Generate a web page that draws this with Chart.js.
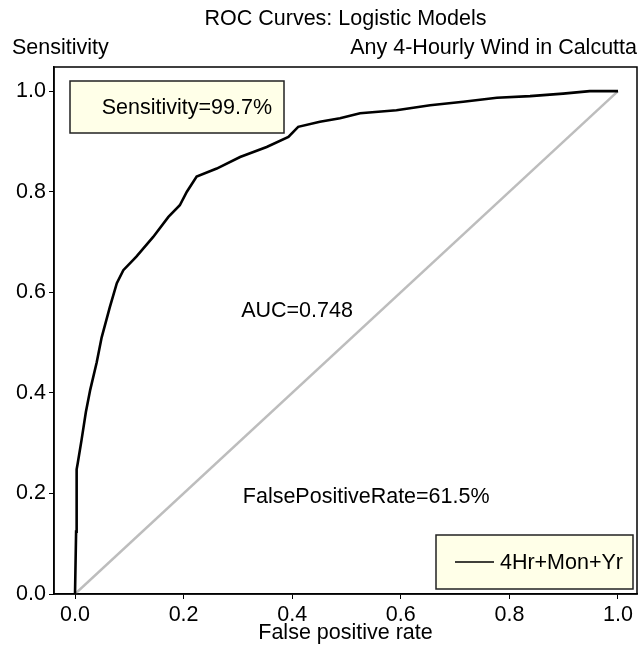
<!DOCTYPE html>
<html>
<head>
<meta charset="utf-8">
<script src="https://cdn.jsdelivr.net/npm/chart.js@4/dist/chart.umd.min.js"></script>
<style>
  html, body { margin: 0; padding: 0; background: #fff; }
  #wrap { width: 640px; height: 651px; }
</style>
</head>
<body>
<div id="wrap"><canvas id="rocChart" width="640" height="651"></canvas></div>
<script>
const rocX = [0, 0.002, 0.003, 0.003, 0.005, 0.012, 0.020, 0.028, 0.040, 0.049, 0.064, 0.077, 0.089, 0.113, 0.144, 0.172, 0.193, 0.206, 0.224, 0.261, 0.304, 0.353, 0.393, 0.411, 0.451, 0.488, 0.525, 0.592, 0.654, 0.715, 0.777, 0.838, 0.899, 0.948, 1.0];
const rocY = [0, 0.124, 0.124, 0.248, 0.260, 0.306, 0.362, 0.406, 0.461, 0.510, 0.570, 0.618, 0.644, 0.671, 0.710, 0.750, 0.773, 0.800, 0.830, 0.846, 0.869, 0.889, 0.909, 0.929, 0.939, 0.946, 0.956, 0.962, 0.972, 0.979, 0.987, 0.990, 0.995, 1.0, 1.0];
const diagX = [0, 1];
const diagY = [0, 1];
const xTicks = [0, 0.2, 0.4, 0.6, 0.8, 1.0];
const yTicks = [0, 0.2, 0.4, 0.6, 0.8, 1.0];
const modelLabel = '4Hr+Mon+Yr';
const chartTitle = 'ROC Curves: Logistic Models';
const subLeft = 'Sensitivity';
const subRight = 'Any 4-Hourly Wind in Calcutta';
const sensText = 'Sensitivity=99.7%';
const aucText = 'AUC=0.748';
const fprText = 'FalsePositiveRate=61.5%';

const FONT = '"Liberation Sans", Arial, sans-serif';
const FSIZE = 21.5;

// Textes, cadre et légende dessinés par-dessus le graphique
const decor = {
    id: 'decor',
    afterDraw(chart) {
        const ctx = chart.ctx;
        const a = chart.chartArea;
        const sx = chart.scales.x, sy = chart.scales.y;
        ctx.save();
        // cadre complet
        ctx.strokeStyle = '#000';
        ctx.lineWidth = 1.5;
        ctx.strokeRect(a.left, a.top, a.right - a.left, a.bottom - a.top);

        ctx.fillStyle = '#000';
        ctx.font = FSIZE + 'px ' + FONT;
        ctx.textBaseline = 'middle';
        ctx.textAlign = 'center';
        ctx.fillText(chartTitle, (a.left + a.right) / 2, 19);
        ctx.textAlign = 'left';
        ctx.fillText(subLeft, 12, 48);
        ctx.textAlign = 'right';
        ctx.fillText(subRight, a.right, 48);

        // boîte sensibilité
        ctx.fillStyle = '#ffffe8';
        ctx.fillRect(70, 81, 214, 52);
        ctx.strokeStyle = '#222';
        ctx.lineWidth = 1.5;
        ctx.strokeRect(70, 81, 214, 52);
        ctx.fillStyle = '#000';
        ctx.textAlign = 'right';
        ctx.fillText(sensText, 272, 108);

        // annotations
        ctx.textAlign = 'left';
        ctx.fillText(aucText, sx.getPixelForValue(0.306), sy.getPixelForValue(0.562));
        ctx.fillText(fprText, sx.getPixelForValue(0.309), sy.getPixelForValue(0.192));

        // légende
        ctx.fillStyle = '#ffffe8';
        ctx.fillRect(436, 535, 197, 54);
        ctx.strokeRect(436, 535, 197, 54);
        ctx.strokeStyle = '#000';
        ctx.lineWidth = 1.5;
        ctx.beginPath();
        ctx.moveTo(455, 562);
        ctx.lineTo(494, 562);
        ctx.stroke();
        ctx.fillStyle = '#000';
        ctx.textAlign = 'right';
        ctx.fillText(modelLabel, 623, 563);
        ctx.restore();
    }
};

const rocData = rocX.map((x, i) => ({ x: x, y: rocY[i] }));
const diagData = diagX.map((x, i) => ({ x: x, y: diagY[i] }));

new Chart(document.getElementById('rocChart').getContext('2d'), {
    type: 'line',
    data: {
        datasets: [
            {
                label: modelLabel,
                data: rocData,
                borderColor: '#000',
                borderWidth: 2.6,
                pointRadius: 0,
                tension: 0,
                order: 0
            },
            {
                label: 'diagonale',
                data: diagData,
                borderColor: '#bdbdbd',
                borderWidth: 2.5,
                pointRadius: 0,
                order: 1
            }
        ]
    },
    options: {
        responsive: false,
        animation: false,
        layout: { padding: { top: 67, right: 3, left: 0, bottom: 0 } },
        plugins: {
            legend: { display: false },
            title: { display: false },
            tooltip: { enabled: false }
        },
        scales: {
            x: {
                type: 'linear',
                min: -0.0387,
                max: 1.035,
                afterBuildTicks: s => { s.ticks = xTicks.map(v => ({ value: v })); },
                afterFit: s => { s.height = 57; },
                ticks: {
                    color: '#000',
                    font: { family: FONT, size: FSIZE },
                    padding: 3,
                    maxRotation: 0,
                    autoSkip: false,
                    callback: v => Number(v).toFixed(1)
                },
                grid: { drawOnChartArea: false, tickLength: 5, color: '#000' },
                border: { color: '#000', width: 1.5 },
                title: {
                    display: true,
                    text: 'False positive rate',
                    color: '#000',
                    font: { family: FONT, size: FSIZE },
                    padding: { top: 0, bottom: 5 }
                }
            },
            y: {
                type: 'linear',
                min: 0,
                max: 1.048,
                afterBuildTicks: s => { s.ticks = yTicks.map(v => ({ value: v })); },
                afterFit: s => { s.width = 54; },
                ticks: {
                    color: '#000',
                    font: { family: FONT, size: FSIZE },
                    padding: 3,
                    autoSkip: false,
                    callback: v => Number(v).toFixed(1)
                },
                grid: { drawOnChartArea: false, tickLength: 5, color: '#000' },
                border: { color: '#000', width: 1.5 }
            }
        }
    },
    plugins: [decor]
});
</script>
</body>
</html>
